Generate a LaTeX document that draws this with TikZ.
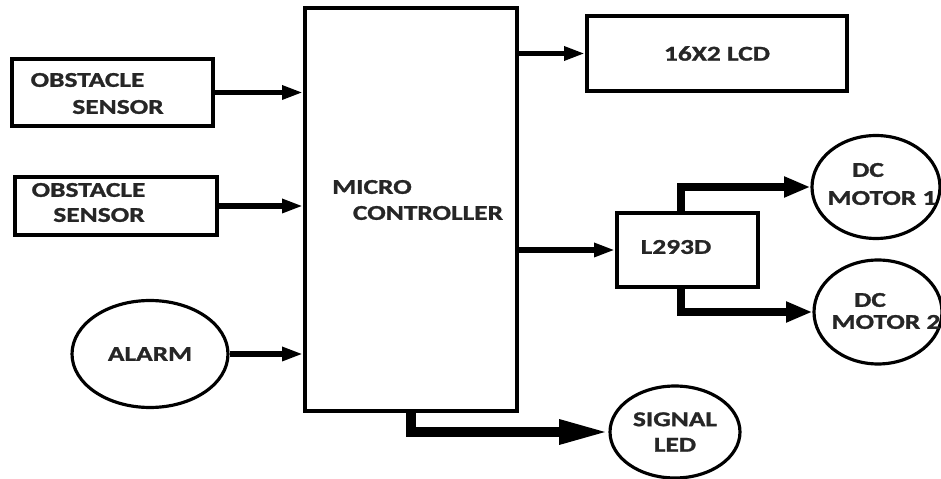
\documentclass[tikz,border=0pt]{standalone}
\usepackage{fontspec}
\newfontfamily\lblfont{Carlito}[FakeStretch=1.3, BoldFeatures={FakeBold=1.2}]
\usetikzlibrary{arrows.meta, positioning, calc, shapes.geometric}
\tikzset{
    block/.style={rectangle, draw=black, line width=2.2pt, inner sep=0pt},
    round/.style={ellipse, draw=black, line width=1.8pt, inner sep=0pt, align=center},
    lbl/.style={font=\lblfont\bfseries\fontsize{12}{14.5}\selectfont, text=black!85},
    sig/.style={-{Triangle[length=12pt, width=7.5pt]}, line width=3.3pt},
    pwr/.style={-{Triangle[length=15pt, width=11pt]}, line width=4.8pt},
    ledarrow/.style={-{Triangle[length=28pt, width=13pt]}, line width=5.2pt}
}

\begin{document}
\begin{tikzpicture}[x=0.02cm, y=-0.02cm]
    \useasboundingbox (0,0) rectangle (941,479);

    % Microcontroller
    \node[block, minimum width=4.24cm, minimum height=8.06cm] (mc) at (411,209.5) {};
    \node[lbl, inner sep=0pt] (mc-a) at (372,187) {MICRO};
    \node[lbl, inner sep=0pt] (mc-b) at (428,213) {CONTROLLER};

    % Inputs
    \node[block, minimum width=4.02cm, minimum height=1.34cm] (obs1) at (112.5,92.5) {};
    \node[lbl, inner sep=0pt] (obs1-a) at (87.5,80) {OBSTACLE};
    \node[lbl, inner sep=0pt] (obs1-b) at (118,107) {SENSOR};
    \node[block, minimum width=4.04cm, minimum height=1.16cm] (obs2) at (116,206) {};
    \node[lbl, inner sep=0pt] (obs2-a) at (88.5,190) {OBSTACLE};
    \node[lbl, inner sep=0pt] (obs2-b) at (99,215) {SENSOR};
    \node[round, lbl, minimum width=3.12cm, minimum height=2.14cm] (alarm) at (150,354) {ALARM};

    % Outputs
    \node[block, lbl, minimum width=5.2cm, minimum height=1.5cm] (lcd) at (717,53.5) {16X2 LCD};
    \node[block, minimum width=2.82cm, minimum height=1.48cm] (drv) at (687.5,250) {};
    \node[lbl, inner sep=0pt] (drv-t) at (676,247) {L293D};
    \node[round, minimum width=2.56cm, minimum height=2.06cm] (m1) at (876,187) {};
    \node[lbl, inner sep=0pt] (m1-a) at (868,170) {DC};
    \node[lbl, inner sep=0pt] (m1-b) at (882,198) {MOTOR 1};
    \node[round, minimum width=2.56cm, minimum height=2.08cm] (m2) at (878,312) {};
    \node[lbl, inner sep=0pt] (m2-a) at (870,300) {DC};
    \node[lbl, inner sep=0pt] (m2-b) at (886,322) {MOTOR 2};
    \node[round, lbl, minimum width=2.6cm, minimum height=1.84cm] (led) at (675,432) {SIGNAL\\LED};

    % Connections
    \draw[sig] (obs1) -- (obs1 -| mc.west);
    \draw[sig] (obs2) -- (obs2 -| mc.west);
    \draw[sig] (alarm) -- (alarm -| mc.west);
    \draw[sig] (lcd.west -| mc.east) -- (lcd);
    \draw[sig] (drv.west -| mc.east) -- (drv);
    \draw[pwr] ([xshift=-0.13cm]drv.north) |- (m1);
    \draw[pwr] ([xshift=-0.13cm]drv.south) |- (m2);
    \draw[ledarrow] (mc.south) |- (led);
\end{tikzpicture}
\end{document}
